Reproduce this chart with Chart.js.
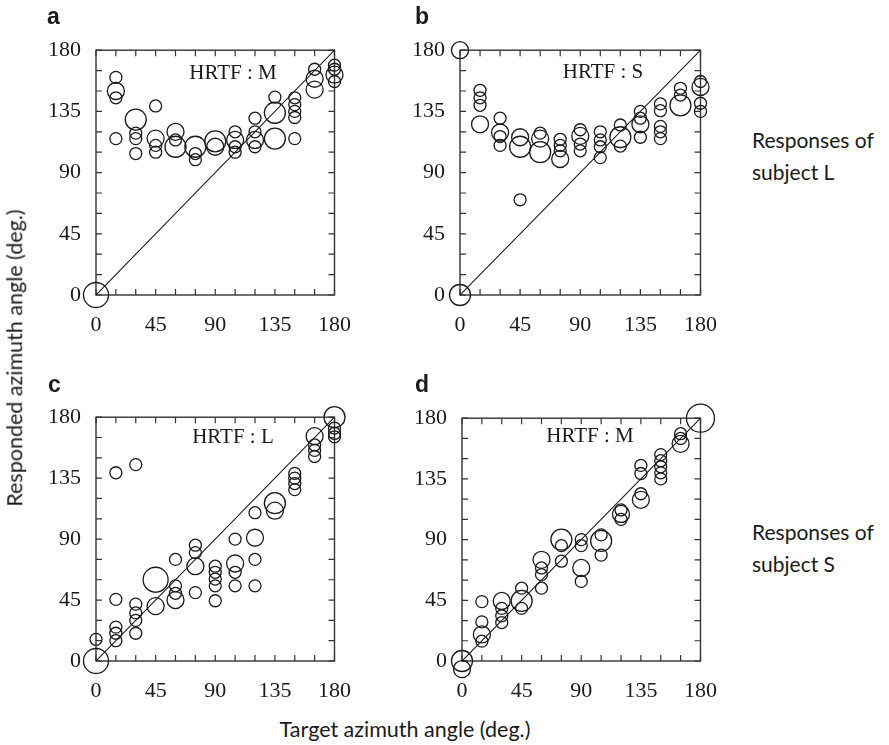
<!DOCTYPE html>
<html>
<head>
<meta charset="utf-8">
<script src="https://cdn.jsdelivr.net/npm/chart.js@4.4.1/dist/chart.umd.min.js"></script>
<style>
  html, body { margin: 0; padding: 0; background: #fff; }
  #page { position: relative; width: 889px; height: 745px; overflow: hidden; font-family: Lato, "Open Sans", sans-serif; color: #1a1a1a; }
  canvas { position: absolute; }
  .txt { position: absolute; white-space: nowrap; line-height: 1; }
  .letter { font-family: "Liberation Sans", Arial, sans-serif; font-weight: bold; font-size: 23px; }
  .hrtf { font-family: "Liberation Serif", serif; font-size: 21px; transform: translate(-50%, -50%); }
  .axis-title { font-size: 21.5px; transform: translate(-50%, -50%); }
  .note { font-size: 21px; line-height: 32px; }
</style>
</head>
<body>
<div id="page">
  <canvas id="chartA"></canvas>
  <canvas id="chartB"></canvas>
  <canvas id="chartC"></canvas>
  <canvas id="chartD"></canvas>

  <div class="txt letter" style="left:47px;top:5px">a</div>
  <div class="txt letter" style="left:415px;top:5px">b</div>
  <div class="txt letter" style="left:48px;top:373px">c</div>
  <div class="txt letter" style="left:415px;top:373px">d</div>

  <div class="txt axis-title" style="left:15px;top:358px;transform:translate(-50%,-50%) rotate(-90deg)">Responded azimuth angle (deg.)</div>
  <div class="txt axis-title" style="left:405px;top:730px">Target azimuth angle (deg.)</div>

  <div class="txt note" style="left:752px;top:124px">Responses of<br>subject L</div>
  <div class="txt note" style="left:752px;top:516px">Responses of<br>subject S</div>
</div>
<script>
// target directions (deg.)
const targetAngles = [0, 15, 30, 45, 60, 75, 90, 105, 120, 135, 150, 165, 180];
const axisTicks = [0, 45, 90, 135, 180];
const minorTicks = [0, 15, 30, 45, 60, 75, 90, 105, 120, 135, 150, 165, 180];

// a: subject L, HRTF M
const respA = [[0, -9], [160, 150, 145, 115], [129, 119, 115, 104], [139, 115, 110, 105],
  [120, 114, 109], [109, 104, 99.5], [113, 109], [120, 114, 109, 105], [130, 120, 114, 109],
  [145.5, 134, 115], [145, 140, 135, 130.5, 115], [166, 159, 151], [169, 166, 162, 157]];
const countA = [[4, 1], [1, 2, 1, 1], [3, 1, 1, 1], [1, 2, 1, 1],
  [2, 1, 3], [3, 1, 1], [3, 2], [1, 2, 1, 1], [1, 1, 2, 1],
  [1, 3, 3], [1, 1, 1, 1, 1], [1, 2, 2], [1, 1, 2, 1]];

// b: subject L, HRTF S
const respB = [[180, 0], [150.5, 145, 139.5, 125.5], [130, 119.5, 116.5, 110], [116, 109, 70],
  [119, 115, 105], [114.5, 110, 106, 100], [121.5, 117, 111, 106], [120, 114, 109, 101],
  [125, 116, 109.5], [135, 130, 125.5, 116], [140.5, 135.5, 124, 120, 115], [152, 147, 139.5],
  [157, 153, 141, 135]];
const countB = [[2, 3], [1, 1, 1, 2], [1, 2, 1, 1], [2, 3, 1],
  [1, 2, 3], [1, 1, 1, 2], [1, 2, 1, 1], [1, 1, 1, 1],
  [1, 3, 1], [1, 1, 2, 1], [1, 1, 1, 1, 1], [1, 1, 3],
  [1, 2, 1, 1]];

// c: subject S, HRTF L
const respC = [[16, 0], [139, 45.5, 25, 20.5, 15], [145, 42, 35.5, 30, 20.5], [60, 40.5],
  [75, 55.5, 50, 45], [85.5, 80, 70, 50.5], [70, 65.5, 60.5, 55.5, 44.5], [90, 72, 65.5, 55.5],
  [109.5, 91, 75, 55.5], [116.5, 111], [138.5, 135, 131, 126.5], [166, 159.5, 155.5, 151],
  [180, 172, 168, 165.5]];
const countC = [[1, 4], [1, 1, 1, 1, 1], [1, 1, 1, 1, 1], [4, 2],
  [1, 1, 1, 2], [1, 1, 2, 1], [1, 1, 1, 1, 1], [1, 2, 1, 1],
  [1, 2, 1, 1], [3, 2], [1, 1, 1, 1], [2, 1, 1, 1],
  [3, 1, 1, 1]];

// d: subject S, HRTF M
const respD = [[0, -6], [44, 29, 19.7, 14.7], [44.5, 39, 33.5, 28.5], [54, 44.5, 39],
  [75, 69, 64, 54], [90, 85.5, 74], [90, 85.5, 69, 59], [93.5, 89, 78.5],
  [112, 109, 105], [145, 139, 124, 119.5], [153, 148.5, 144, 139.5, 135], [168.5, 165, 161],
  [180]];
const countD = [[3, 2], [1, 1, 2, 1], [2, 1, 1, 1], [1, 3, 1],
  [2, 1, 1, 1], [3, 1, 1], [1, 1, 2, 1], [1, 3, 1],
  [1, 2, 1], [1, 1, 1, 2], [1, 1, 1, 1, 1], [1, 1, 2],
  [5]];

const hrtfLabels = ['HRTF : M', 'HRTF : S', 'HRTF : L', 'HRTF : M'];

// plot areas in page pixels
const panels = [
  { id: 'chartA', resp: respA, count: countA, left: 96, top: 44, w: 250, h: 251, label: [233, 72] },
  { id: 'chartB', resp: respB, count: countB, left: 460, top: 44, w: 252, h: 251, label: [603, 71] },
  { id: 'chartC', resp: respC, count: countC, left: 96, top: 411, w: 250, h: 250, label: [233, 436] },
  { id: 'chartD', resp: respD, count: countD, left: 462, top: 412, w: 250, h: 249, label: [590, 435] }
];
const PAD = { left: 70, right: 22, top: 22, bottom: 50 };
const radiusFor = [0, 6, 8.5, 10.5, 12.5, 14];
const INK = '#1a1a1a';
const SERIF = 'Liberation Serif';

Chart.defaults.font.family = SERIF;

const frameTicks = {
  id: 'frameTicks',
  beforeDatasetsDraw(chart) {
    const { ctx, chartArea: a, scales: { x, y } } = chart;
    ctx.save();
    ctx.strokeStyle = '#333';
    ctx.lineWidth = 1.4;
    ctx.strokeRect(a.left, a.top, a.right - a.left, a.bottom - a.top);
    ctx.lineWidth = 1.2;
    ctx.beginPath();
    minorTicks.forEach(v => {
      const px = x.getPixelForValue(v), py = y.getPixelForValue(v);
      ctx.moveTo(px, a.bottom); ctx.lineTo(px, a.bottom - 6);
      ctx.moveTo(px, a.top); ctx.lineTo(px, a.top + 6);
      ctx.moveTo(a.left, py); ctx.lineTo(a.left + 6, py);
      ctx.moveTo(a.right, py); ctx.lineTo(a.right - 6, py);
    });
    ctx.stroke();
    ctx.restore();
  }
};

function tickAxis(position, size, showLabels) {
  const horizontal = position === 'top' || position === 'bottom';
  return {
    type: 'linear',
    position: position,
    min: 0,
    max: 180,
    afterBuildTicks: s => { s.ticks = axisTicks.map(v => ({ value: v })); },
    afterFit: s => { if (horizontal) s.height = size; else s.width = size; },
    grid: { display: false, drawTicks: false },
    border: { display: false },
    ticks: {
      display: showLabels,
      autoSkip: false,
      maxRotation: 0,
      padding: horizontal ? 17 : 15,
      color: INK,
      font: { family: SERIF, size: 22 }
    }
  };
}

const page = document.getElementById('page');

panels.forEach((p, k) => {
  const canvas = document.getElementById(p.id);
  canvas.width = p.w + PAD.left + PAD.right;
  canvas.height = p.h + PAD.top + PAD.bottom;
  canvas.style.left = (p.left - PAD.left) + 'px';
  canvas.style.top = (p.top - PAD.top) + 'px';

  const points = [];
  targetAngles.forEach((t, i) => {
    p.resp[i].forEach((v, j) => {
      points.push({ x: t, y: v, r: radiusFor[p.count[i][j]] });
    });
  });

  new Chart(canvas.getContext('2d'), {
    type: 'bubble',
    data: {
      datasets: [
        {
          type: 'line',
          data: [{ x: 0, y: 0 }, { x: 180, y: 180 }],
          borderColor: INK,
          borderWidth: 1.1,
          pointRadius: 0,
          fill: false,
          xAxisID: 'x',
          yAxisID: 'y'
        },
        {
          data: points,
          backgroundColor: 'rgba(0,0,0,0)',
          borderColor: INK,
          borderWidth: 1.3,
          clip: false,
          xAxisID: 'x',
          yAxisID: 'y'
        }
      ]
    },
    options: {
      responsive: false,
      animation: false,
      events: [],
      layout: { padding: 0 },
      plugins: { legend: { display: false }, tooltip: { enabled: false } },
      scales: {
        x: tickAxis('bottom', PAD.bottom, true),
        y: tickAxis('left', PAD.left, true),
        x2: tickAxis('top', PAD.top, false),
        y2: tickAxis('right', PAD.right, false)
      }
    },
    plugins: [frameTicks]
  });

  const lab = document.createElement('div');
  lab.className = 'txt hrtf';
  lab.style.left = p.label[0] + 'px';
  lab.style.top = p.label[1] + 'px';
  lab.textContent = hrtfLabels[k];
  page.appendChild(lab);
});
</script>
</body>
</html>
